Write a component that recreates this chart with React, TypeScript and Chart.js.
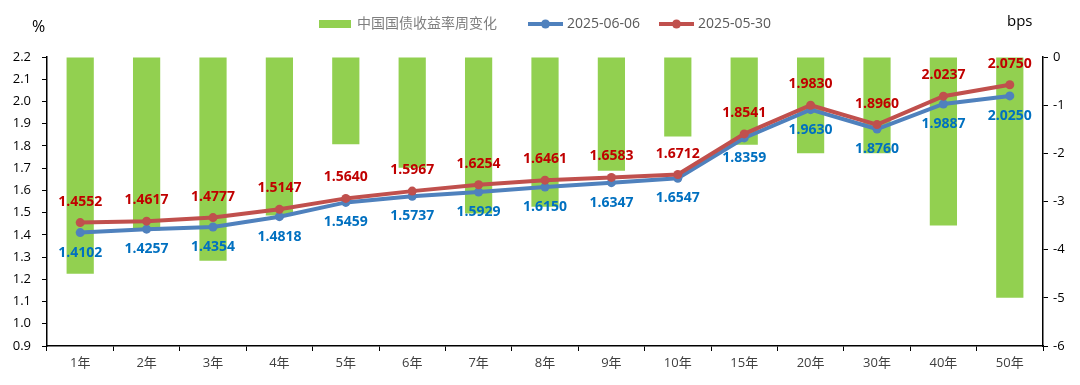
import React, { useEffect, useRef } from "react";
import { Chart, registerables } from "chart.js";

Chart.register(...registerables);

const categories = ["1年", "2年", "3年", "4年", "5年", "6年", "7年", "8年", "9年", "10年", "15年", "20年", "30年", "40年", "50年"];
const yield0606 = [1.4102, 1.4257, 1.4354, 1.4818, 1.5459, 1.5737, 1.5929, 1.615, 1.6347, 1.6547, 1.8359, 1.963, 1.876, 1.9887, 2.025];
const yield0530 = [1.4552, 1.4617, 1.4777, 1.5147, 1.564, 1.5967, 1.6254, 1.6461, 1.6583, 1.6712, 1.8541, 1.983, 1.896, 2.0237, 2.075];
const weeklyChange = [-4.5, -3.6, -4.23, -3.29, -1.81, -2.3, -3.25, -3.11, -2.36, -1.65, -1.82, -2.0, -2.0, -3.5, -5.0];

const barLabel = "中国国债收益率周变化";
const blueLabel = "2025-06-06";
const redLabel = "2025-05-30";

const GREEN = "#92D050";
const BLUE = "#4F81BD";
const RED = "#C0504D";
const BLUE_TXT = "#0070C0";
const RED_TXT = "#C00000";
const FONT = "'Open Sans', 'Noto Sans CJK SC', sans-serif";

export default function App() {
  const ref = useRef<HTMLCanvasElement | null>(null);
  useEffect(() => {
    if (!ref.current) return;
    const labelPlugin = {
      id: "labels",
      afterDatasetsDraw(chart: any) {
        const ctx = chart.ctx;
        ctx.save();
        ctx.font = `bold 14px ${FONT}`;
        ctx.textAlign = "center";
        ctx.textBaseline = "middle";
        const mBlue = chart.getDatasetMeta(1);
        mBlue.data.forEach((p: any, i: number) => {
          ctx.fillStyle = BLUE_TXT;
          ctx.fillText(yield0606[i].toFixed(4), p.x, p.y + 20);
        });
        const mRed = chart.getDatasetMeta(2);
        mRed.data.forEach((p: any, i: number) => {
          ctx.fillStyle = RED_TXT;
          ctx.fillText(yield0530[i].toFixed(4), p.x, p.y - 21);
        });
        ctx.restore();
      },
      afterDraw(chart: any) {
        const ctx = chart.ctx;
        ctx.save();
        ctx.textBaseline = "middle";
        ctx.textAlign = "left";
        // axis titles
        ctx.fillStyle = "#000";
        ctx.font = `16px ${FONT}`;
        ctx.fillText("%", 32, 27);
        ctx.font = `15px ${FONT}`;
        ctx.fillText("bps", 1007, 22);
        // legend
        const y = 24;
        ctx.fillStyle = GREEN;
        ctx.fillRect(319, y - 4, 32, 8);
        ctx.font = `14px ${FONT}`;
        ctx.fillStyle = "#7F7F7F";
        ctx.fillText(barLabel, 357, y);
        const drawLine = (x: number, color: string, text: string) => {
          ctx.strokeStyle = color;
          ctx.lineWidth = 4;
          ctx.beginPath();
          ctx.moveTo(x, y);
          ctx.lineTo(x + 35, y);
          ctx.stroke();
          ctx.fillStyle = color;
          ctx.beginPath();
          ctx.arc(x + 17.5, y, 4.5, 0, Math.PI * 2);
          ctx.fill();
          ctx.fillStyle = "#595959";
          ctx.font = `14px ${FONT}`;
          ctx.fillText(text, x + 39, y);
        };
        drawLine(528, BLUE, blueLabel);
        drawLine(659, RED, redLabel);
        ctx.restore();
      },
    };
    const chart = new Chart(ref.current, {
      type: "bar",
      data: {
        labels: categories,
        datasets: [
          {
            type: "bar",
            label: barLabel,
            data: weeklyChange,
            backgroundColor: GREEN,
            yAxisID: "yR",
            barPercentage: 0.41,
            categoryPercentage: 1,
            order: 3,
          },
          {
            type: "line",
            label: blueLabel,
            data: yield0606,
            borderColor: BLUE,
            backgroundColor: BLUE,
            borderWidth: 4,
            pointRadius: 4.5,
            pointBackgroundColor: BLUE,
            pointBorderWidth: 0,
            yAxisID: "yL",
            order: 2,
          },
          {
            type: "line",
            label: redLabel,
            data: yield0530,
            borderColor: RED,
            backgroundColor: RED,
            borderWidth: 4,
            pointRadius: 4.5,
            pointBackgroundColor: RED,
            pointBorderWidth: 0,
            yAxisID: "yL",
            order: 1,
          },
        ],
      },
      options: {
        animation: false,
        responsive: false,
        maintainAspectRatio: false,
        layout: { padding: { top: 57, left: 0, right: 0, bottom: 0 } },
        plugins: { legend: { display: false }, tooltip: { enabled: false } },
        scales: {
          x: {
            offset: true,
            grid: { display: true, drawOnChartArea: false, drawTicks: true, tickLength: 5, color: "#000", offset: true },
            border: { display: true, color: "#000", width: 1.5 },
            ticks: { color: "#404040", font: { family: FONT, size: 13 }, padding: 4 },
            afterFit(s: any) { s.height = 39; },
          },
          yL: {
            position: "left",
            min: 0.9,
            max: 2.2,
            grid: { display: true, drawOnChartArea: false, drawTicks: true, tickLength: 5, color: "#000" },
            border: { display: true, color: "#000", width: 1.5 },
            ticks: {
              stepSize: 0.1,
              color: "#000",
              font: { family: FONT, size: 13 },
              padding: 11,
              callback: (v: any) => Number(v).toFixed(1),
            },
            afterFit(s: any) { s.width = 47; },
          },
          yR: {
            position: "right",
            min: -6,
            max: 0,
            grid: { display: true, drawOnChartArea: false, drawTicks: true, tickLength: 5, color: "#000" },
            border: { display: true, color: "#000", width: 1.5 },
            ticks: { stepSize: 1, color: "#000", font: { family: FONT, size: 13 }, padding: 5 },
            afterFit(s: any) { s.width = 37; },
          },
        },
      },
      plugins: [labelPlugin],
    } as any);
    return () => chart.destroy();
  }, []);
  return (
    <div style={{ position: "fixed", left: 0, top: 0, width: 1080, height: 385, background: "#fff" }}>
      <canvas ref={ref} width={1080} height={385} style={{ width: 1080, height: 385 }} />
    </div>
  );
}
